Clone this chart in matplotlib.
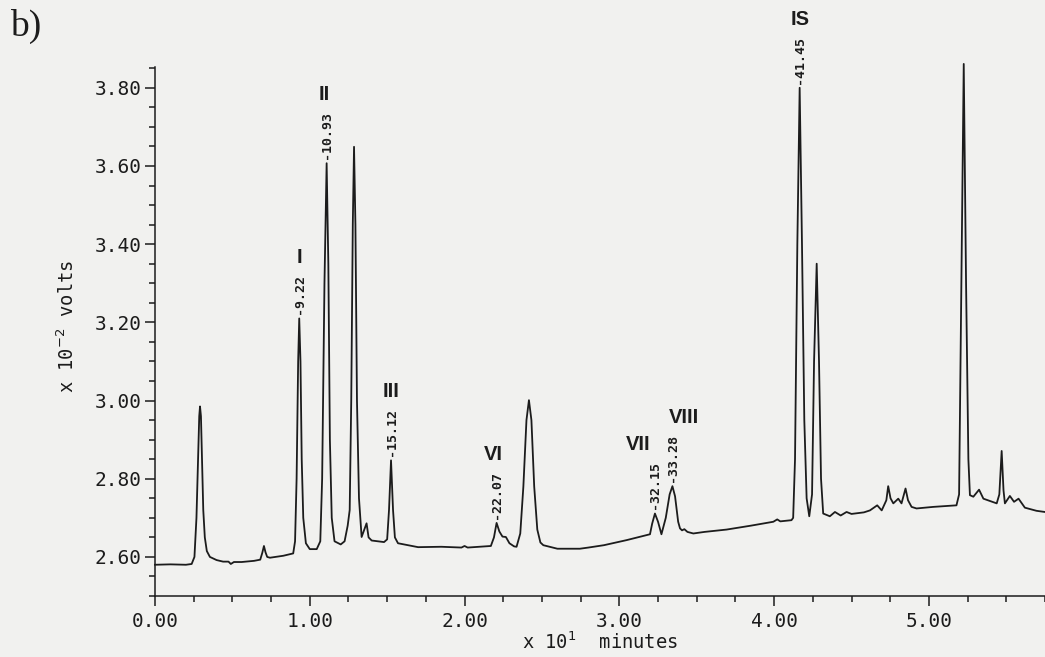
import matplotlib
matplotlib.use('Agg')
import matplotlib.pyplot as plt
from matplotlib.ticker import MultipleLocator, FormatStrFormatter

# chromatogram trace (x 10 min, x 10^-2 V)
time = [0.000, 0.100, 0.200, 0.237, 0.255, 0.268, 0.278, 0.286, 0.291, 0.297,
        0.304, 0.312, 0.322, 0.335, 0.355, 0.398, 0.440, 0.475, 0.490, 0.510,
        0.560, 0.640, 0.680, 0.693, 0.704, 0.714, 0.725, 0.743, 0.829, 0.893,
        0.905, 0.915, 0.925, 0.932, 0.940, 0.948, 0.958, 0.975, 1.000, 1.045,
        1.068, 1.080, 1.095, 1.109, 1.120, 1.130, 1.142, 1.160, 1.200, 1.225,
        1.245, 1.258, 1.268, 1.278, 1.286, 1.295, 1.305, 1.318, 1.335, 1.352,
        1.367, 1.380, 1.400, 1.480, 1.500, 1.512, 1.525, 1.538, 1.550, 1.570,
        1.700, 1.850, 1.980, 2.000, 2.020, 2.100, 2.170, 2.190, 2.207, 2.225,
        2.245, 2.267, 2.290, 2.320, 2.336, 2.360, 2.380, 2.400, 2.416, 2.432,
        2.450, 2.470, 2.490, 2.509, 2.600, 2.745, 2.800, 2.900, 3.047, 3.198,
        3.212, 3.230, 3.250, 3.272, 3.300, 3.325, 3.343, 3.360, 3.380, 3.392,
        3.405, 3.420, 3.440, 3.478, 3.550, 3.693, 3.850, 3.995, 4.020, 4.040,
        4.112, 4.123, 4.135, 4.150, 4.165, 4.180, 4.195, 4.210, 4.227, 4.245,
        4.258, 4.275, 4.290, 4.303, 4.317, 4.360, 4.393, 4.430, 4.468, 4.500,
        4.580, 4.619, 4.666, 4.695, 4.725, 4.737, 4.752, 4.770, 4.802, 4.823,
        4.849, 4.865, 4.888, 4.920, 5.028, 5.178, 5.195, 5.210, 5.225, 5.240,
        5.255, 5.265, 5.287, 5.324, 5.352, 5.438, 5.455, 5.470, 5.482, 5.491,
        5.523, 5.550, 5.579, 5.620, 5.695, 5.749]
signal = [2.580, 2.581, 2.580, 2.582, 2.600, 2.700, 2.850, 2.960, 2.985, 2.960,
          2.850, 2.720, 2.650, 2.615, 2.600, 2.592, 2.588, 2.588, 2.582, 2.587,
          2.587, 2.590, 2.593, 2.610, 2.628, 2.612, 2.600, 2.598, 2.603, 2.609,
          2.640, 2.800, 3.100, 3.210, 3.100, 2.850, 2.700, 2.635, 2.620, 2.620,
          2.640, 2.800, 3.300, 3.607, 3.350, 2.900, 2.700, 2.640, 2.632, 2.640,
          2.680, 2.720, 3.000, 3.450, 3.649, 3.450, 3.000, 2.750, 2.651, 2.670,
          2.686, 2.650, 2.642, 2.638, 2.645, 2.720, 2.847, 2.720, 2.650, 2.635,
          2.625, 2.626, 2.624, 2.628, 2.624, 2.626, 2.628, 2.650, 2.687, 2.665,
          2.652, 2.651, 2.635, 2.627, 2.626, 2.660, 2.780, 2.950, 3.001, 2.950,
          2.780, 2.670, 2.637, 2.630, 2.621, 2.621, 2.624, 2.630, 2.643, 2.658,
          2.685, 2.711, 2.690, 2.658, 2.700, 2.760, 2.781, 2.755, 2.690, 2.673,
          2.668, 2.671, 2.664, 2.660, 2.664, 2.670, 2.680, 2.690, 2.696, 2.691,
          2.694, 2.700, 2.850, 3.400, 3.800, 3.400, 2.950, 2.750, 2.704, 2.760,
          3.100, 3.350, 3.100, 2.800, 2.711, 2.704, 2.715, 2.706, 2.715, 2.710,
          2.714, 2.719, 2.732, 2.719, 2.745, 2.781, 2.750, 2.737, 2.749, 2.737,
          2.775, 2.745, 2.728, 2.724, 2.728, 2.732, 2.760, 3.300, 3.861, 3.300,
          2.850, 2.758, 2.754, 2.772, 2.749, 2.737, 2.760, 2.871, 2.770, 2.737,
          2.756, 2.741, 2.749, 2.726, 2.718, 2.715]

# labelled peaks
peak_names = ['I', 'II', 'III', 'VI', 'VII', 'VIII', 'IS']
peak_times = ['9.22', '10.93', '15.12', '22.07', '32.15', '33.28', '41.45']
name_shift = [0, -2, 0, -2, -12, 8, 0]   # horizontal nudge of the numerals, points

ink = '#1c1c1c'
paper = '#f1f1ef'
mono = 'DejaVu Sans Mono'

fig = plt.figure(figsize=(10.45, 6.57), dpi=100, facecolor=paper)
ax = fig.add_axes([0.1483, 0.0928, 0.8517, 0.8212])
ax.set_facecolor(paper)

ax.plot(time, signal, color=ink, lw=1.3, clip_on=False)

ax.set_xlim(0, 5.75)
ax.set_ylim(2.50, 3.88)
ax.spines['top'].set_visible(False)
ax.spines['right'].set_visible(False)
ax.spines['left'].set_bounds(2.50, 3.853)
for s in ('left', 'bottom'):
    ax.spines[s].set_linewidth(1.1)
    ax.spines[s].set_color(ink)

ax.xaxis.set_major_locator(MultipleLocator(1.0))
ax.xaxis.set_minor_locator(MultipleLocator(0.25))
ax.yaxis.set_minor_locator(MultipleLocator(0.05))
ax.set_yticks([2.6, 2.8, 3.0, 3.2, 3.4, 3.6, 3.8])
ax.xaxis.set_major_formatter(FormatStrFormatter('%.2f'))
ax.yaxis.set_major_formatter(FormatStrFormatter('%.2f'))
ax.tick_params(which='major', length=7.5, width=1.1, color=ink, direction='out',
               labelsize=14, labelcolor=ink)
ax.tick_params(which='minor', length=4.5, width=1.1, color=ink, direction='out')
ax.tick_params(axis='y', pad=2)
ax.tick_params(axis='x', pad=4)
for lab in ax.get_xticklabels() + ax.get_yticklabels():
    lab.set_family(mono)

ax.set_xlabel('x 10$^{1}$  minutes', family=mono, fontsize=13.5, color=ink, labelpad=0)
ax.set_ylabel('x 10$^{-2}$ volts', family=mono, fontsize=13.5, color=ink, labelpad=12)

for name, rt, dx in zip(peak_names, peak_times, name_shift):
    t0 = float(rt) / 10
    near = [i for i, t in enumerate(time) if abs(t - t0) < 0.03]
    k = max(near, key=lambda i: signal[i])
    lab = ax.annotate('-' + rt, xy=(time[k], signal[k]), xytext=(0, 3),
                      textcoords='offset points', rotation=90, ha='center', va='bottom',
                      family=mono, fontsize=9.5, fontweight='bold', color=ink)
    ax.annotate(name, xy=(0.5, 1.0), xycoords=lab, xytext=(dx, 5),
                textcoords='offset points', ha='center', va='bottom',
                family='Liberation Sans', fontsize=14.5, fontweight='bold', color=ink)

fig.text(0.01, 0.945, 'b)', family='Liberation Serif', fontsize=27, color=ink)

fig.savefig('out.png', dpi=100, facecolor=paper)
